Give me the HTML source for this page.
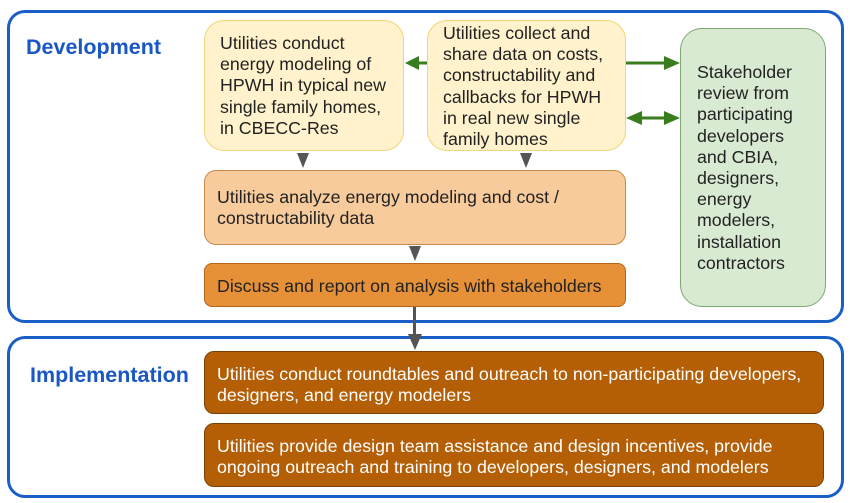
<!DOCTYPE html>
<html><head><meta charset="utf-8"><style>
body{margin:0;width:850px;height:503px;background:#fff;position:relative;overflow:hidden;font-family:"Liberation Sans",Arial,sans-serif;}
.b{position:absolute;box-sizing:border-box;font-size:17.8px;line-height:21.2px;color:#222;white-space:nowrap;}
.outer{border:3px solid #1a5fc8;border-radius:18px;}
.t{position:absolute;font-weight:bold;color:#1a56c4;font-size:21.5px;}
.y{background:#fff2cc;border:1.5px solid #f1d679;border-radius:20px;padding:12px 0 0 15px;}
.o1{background:#f8cb9c;border:1.5px solid #c88a4c;border-radius:12px;padding:16px 12px;}
.o2{background:#e69138;border:1.5px solid #b4651c;border-radius:8px;padding:12px 12px;}
.g{background:#d9ead3;border:1.5px solid #7fa870;border-radius:22px;padding:33px 0 0 16px;}
.br{background:#b45f06;border:1.5px solid #7a3e04;border-radius:10px;padding:12px 12px;color:#fff;}
</style></head><body>
<div class="b outer" style="left:7px;top:10px;width:837px;height:313px"></div>
<div class="b outer" style="left:7px;top:336px;width:837px;height:162px"></div>
<div class="t" style="left:26px;top:35px">Development</div>
<div class="t" style="left:30px;top:363px">Implementation</div>
<div class="b y" style="left:204px;top:20px;width:200px;height:131px">Utilities conduct<br>energy modeling of<br>HPWH in typical new<br>single family homes,<br>in CBECC-Res</div>
<div class="b y" style="left:427px;top:20px;width:199px;height:131px;padding-top:2px">Utilities collect and<br>share data on costs,<br>constructability and<br>callbacks for HPWH<br>in real new single<br>family homes</div>
<div class="b g" style="left:680px;top:28px;width:146px;height:279px">Stakeholder<br>review from<br>participating<br>developers<br>and CBIA,<br>designers,<br>energy<br>modelers,<br>installation<br>contractors</div>
<div class="b o1" style="left:204px;top:170px;width:422px;height:75px;padding-top:16px">Utilities analyze energy modeling and cost /<br>constructability data</div>
<div class="b o2" style="left:204px;top:263px;width:422px;height:44px">Discuss and report on analysis with stakeholders</div>
<div class="b br" style="left:204px;top:351px;width:620px;height:63px">Utilities conduct roundtables and outreach to non-participating developers,<br>designers, and energy modelers</div>
<div class="b br" style="left:204px;top:423px;width:620px;height:64px">Utilities provide design team assistance and design incentives, provide<br>ongoing outreach and training to developers, designers, and modelers</div>
<svg width="850" height="503" style="position:absolute;left:0;top:0">
<g fill="#555">
<polygon points="297,153 309,153 303,168"/>
<polygon points="520,153 532,153 526,168"/>
<polygon points="409,246 421,246 415,261"/>
<rect x="413" y="307" width="3" height="30"/>
<polygon points="408,334 422,334 415,350"/>
</g>
<g stroke="#3a7d1e" stroke-width="3" fill="#3a7d1e">
<line x1="418" y1="63" x2="427" y2="63"/>
<polygon points="405,63 419,56 419,70" stroke="none"/>
<line x1="626" y1="63" x2="668" y2="63"/>
<polygon points="680,63 664,56 664,70" stroke="none"/>
<line x1="640" y1="118" x2="668" y2="118"/>
<polygon points="680,118 664,111 664,125" stroke="none"/>
<polygon points="626,118 642,111 642,125" stroke="none"/>
</g>
</svg>
</body></html>
